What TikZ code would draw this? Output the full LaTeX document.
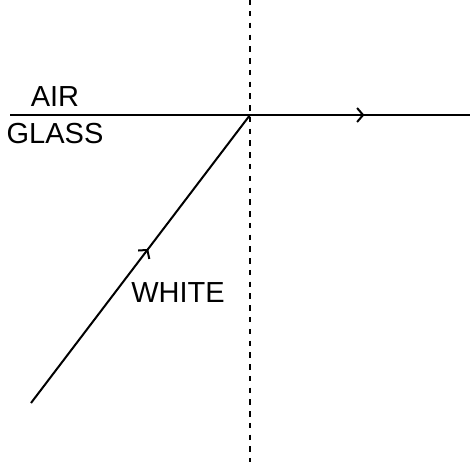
\documentclass[tikz,border=0pt]{standalone}
\usepackage{fontspec}
\setmainfont{Liberation Sans}
\usetikzlibrary{arrows.meta,decorations.markings,positioning}
\tikzset{
    %Define standard arrow tip
    >={Straight Barb[length=6pt,width=14pt,line width=2pt]},
    %Define style for labels
    lbl/.style={
           inner sep=0pt,
           font=\fontsize{29}{32}\selectfont},
    % Define line styles
    boundary/.style={
           line width=2pt},
    normalline/.style={
           line width=2pt,
           dash pattern=on 5.5pt off 6.27pt},
    ray/.style={
           line width=2pt,
           postaction={decorate},
           decoration={markings,
               mark=at position #1 with {\arrow{>}}}},
    ray/.default=0.5
}

\begin{document}
\begin{tikzpicture}[x=1pt, y=-1pt]
    \useasboundingbox (0,0) rectangle (475,466);
 %points
    \coordinate (o) at (250,115);
    \coordinate (left) at (10,115);
    \coordinate (right) at (470,115);
    \coordinate (top) at (250,-0.8);
    \coordinate (bottom) at (250,462);
    \coordinate (src) at (31,403);
 %nodes
    \node[lbl] (air) at (55,97) {AIR};
    \node[lbl] (glass) at (55,134) {GLASS};
    \node[lbl] (white) at (178,293) {WHITE};
 %edges
    \draw[normalline] (top) -- (bottom);
    \draw[boundary] (left) -- (o);
    \draw[ray=0.52] (o) -- (right);
    \draw[ray=0.535] (src) -- (o);
\end{tikzpicture}
\end{document}
